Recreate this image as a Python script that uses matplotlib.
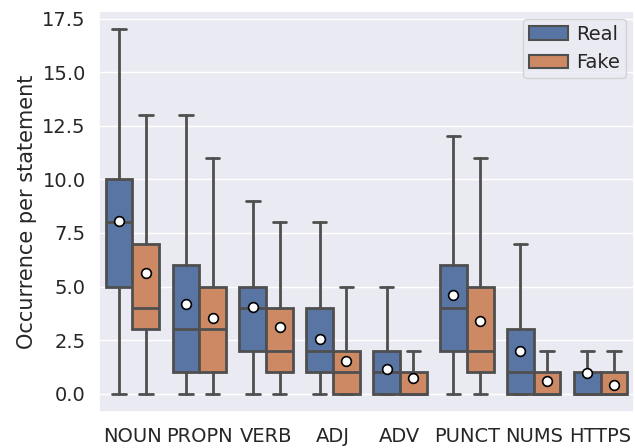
import matplotlib
matplotlib.use("Agg")
import matplotlib.pyplot as plt
import seaborn as sns
from matplotlib.patches import Patch

categories = ["NOUN", "PROPN", "VERB", "ADJ", "ADV", "PUNCT", "NUMS", "HTTPS"]
groups = ["Real", "Fake"]

# five-number summaries per category: (whislo, q1, med, q3, whishi)
real_stats = [(0, 5, 8, 10, 17), (0, 1, 3, 6, 13), (0, 2, 4, 5, 9), (0, 1, 2, 4, 8),
              (0, 0, 1, 2, 5), (0, 2, 4, 6, 12), (0, 0, 1, 3, 7), (0, 0, 0, 1, 2)]
fake_stats = [(0, 3, 4, 7, 13), (0, 1, 3, 5, 11), (0, 1, 2, 4, 8), (0, 0, 1, 2, 5),
              (0, 0, 0, 1, 2), (0, 1, 2, 5, 11), (0, 0, 0, 1, 2), (0, 0, 0, 1, 2)]
real_means = [8.07, 4.17, 4.03, 2.55, 1.16, 4.6, 2.0, 0.97]
fake_means = [5.65, 3.52, 3.1, 1.52, 0.73, 3.38, 0.58, 0.43]

sns.set_theme(style="darkgrid")
plt.rcParams['font.family'] = ['DejaVu Sans']

colors = ["#5875A4", "#CC8963"]
lc = "#4f4f4f"
lw = 2.0

fig = plt.figure(figsize=(6.35, 4.48), dpi=100)
ax = fig.add_axes([99 / 635, 1 - 412 / 448, 535 / 635, 401 / 448])

for gi, (stats, means) in enumerate([(real_stats, real_means), (fake_stats, fake_means)]):
    bstats = []
    for (lo, q1, med, q3, hi), mn in zip(stats, means):
        bstats.append(dict(whislo=lo, q1=q1, med=med, q3=q3, whishi=hi, mean=mn, fliers=[]))
    pos = [i + (-0.2 if gi == 0 else 0.2) for i in range(len(categories))]
    ax.bxp(bstats, positions=pos, widths=0.4, patch_artist=True, showmeans=True,
           showfliers=False,
           boxprops=dict(facecolor=colors[gi], edgecolor=lc, linewidth=lw),
           medianprops=dict(color=lc, linewidth=lw),
           whiskerprops=dict(color=lc, linewidth=lw),
           capprops=dict(color=lc, linewidth=lw),
           capwidths=0.2,
           meanprops=dict(marker="o", markerfacecolor="white", markeredgecolor="black",
                          markersize=7, markeredgewidth=1.2),
           manage_ticks=False)

ax.set_xlim(-0.5, len(categories) - 0.5)
ax.set_ylim(-0.85, 17.85)
ax.set_xticks(range(len(categories)))
ax.set_xticklabels(categories)
ax.set_yticks([0, 2.5, 5, 7.5, 10, 12.5, 15, 17.5])
ax.set_yticklabels(["0.0", "2.5", "5.0", "7.5", "10.0", "12.5", "15.0", "17.5"])
ax.tick_params(axis="y", labelsize=14)
ax.tick_params(axis="x", labelsize=14, pad=4.5)
ax.set_ylabel("Occurrence per statement", fontsize=15)
ax.grid(axis="x", visible=False)

handles = [Patch(facecolor=colors[i], edgecolor=lc, linewidth=1.5, label=groups[i]) for i in range(2)]
ax.legend(handles=handles, loc="upper right", fontsize=14, handletextpad=0.45,
          borderpad=0.3, borderaxespad=0.4)

fig.savefig("out.png", dpi=100)
